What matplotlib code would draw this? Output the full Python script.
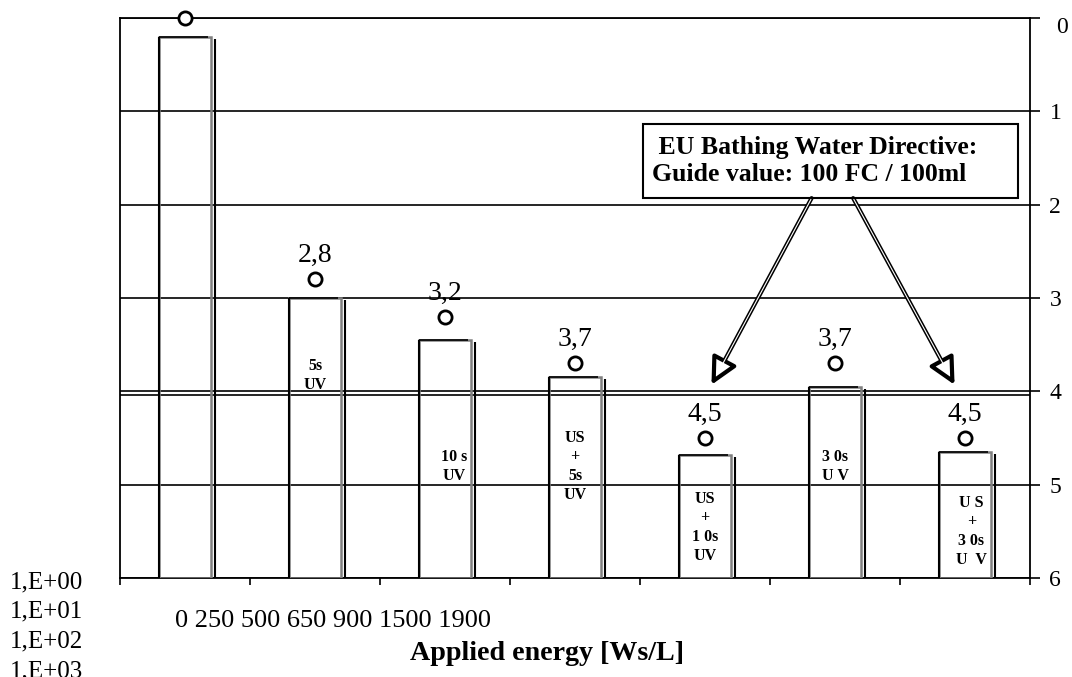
import matplotlib
matplotlib.use("Agg")
import matplotlib.pyplot as plt
from matplotlib.patches import Rectangle
from matplotlib.transforms import ScaledTranslation

plt.rcParams["font.family"] = ["Liberation Serif", "DejaVu Serif"]

# data
energies = ["0", "250", "500", "650", "900", "1500", "1900"]
bar_tops = [0.2, 3.0, 3.45, 3.85, 4.68, 3.95, 4.65]
marker_vals = [0.0, 2.8, 3.2, 3.7, 4.5, 3.7, 4.5]
value_labels = ["", "2,8", "3,2", "3,7", "4,5", "3,7", "4,5"]
treatments = ["", "5s\nUV", "10 s\nUV", "US\n+\n5s\nUV", "US\n+\n1 0s\nUV", "3 0s\nU V", "U S\n+\n3 0s\nU  V"]
treat_pos = [(0, 0), (0.0, 3.83), (0.07, 4.8), (0.0, 4.8), (0.0, 5.46), (0.0, 4.8), (0.05, 5.5)]
left_labels = ["1,E+00", "1,E+01", "1,E+02", "1,E+03"]
guide_value = 4.04
bottom_val = 6

x = list(range(len(energies)))
width = 0.4

fig = plt.figure(figsize=(10.72, 6.77), dpi=100)
ax = fig.add_axes([0.1119, 0.1462, 0.8489, 0.8272])

ax.set_xlim(-0.5, 6.5)
ax.set_ylim(6, 0)

# bars hanging from the bottom (6) up to the bar top
heights = [t - bottom_val for t in bar_tops]
ax.bar(x, heights, bottom=bottom_val, width=width, fill=False,
       edgecolor="#808080", lw=1.8, zorder=3)
ax.vlines([xi - width / 2 for xi in x], bar_tops, bottom_val, color="black", lw=1.5, zorder=4)
ax.vlines([xi + width / 2 + 0.03 for xi in x], [t + 0.02 for t in bar_tops], bottom_val,
          color="black", lw=1.5, zorder=4)
ax.hlines(bar_tops, [xi - width / 2 for xi in x], [xi + width / 2 - 0.02 for xi in x],
          color="black", lw=1.2, zorder=4)

# measured values
ax.plot(x, marker_vals, linestyle="none", marker="o", markersize=9.5,
        markerfacecolor="white", markeredgecolor="black", markeredgewidth=2,
        zorder=6, clip_on=False)
for xi, v, lab in zip(x, marker_vals, value_labels):
    if lab:
        ax.annotate(lab, (xi, v), xytext=(0, 8), textcoords="offset points",
                    ha="center", va="bottom", fontsize=20, zorder=6)

for xi, (dx, yy), t in zip(x, treat_pos, treatments):
    if t:
        ax.text(xi + dx, yy, t, ha="center", va="center", fontsize=11.5,
                fontweight="bold", linespacing=1.25, zorder=5)

# guide value line
ax.axhline(guide_value, color="black", lw=1.2, zorder=2)

# annotation box with arrows
ax.add_patch(Rectangle((3.523, 1.136), 2.885, 0.794, fill=False, ec="black", lw=1.5, zorder=6))
ax.text(3.59, 1.53, " EU Bathing Water Directive:\nGuide value: 100 FC / 100ml",
        ha="left", va="center", fontsize=18.5, fontweight="bold", linespacing=1.2,
        multialignment="left", zorder=6)
for start, end in [((4.82, 1.93), (4.05, 3.93)), ((5.14, 1.93), (5.92, 3.93))]:
    ax.annotate("", xy=end, xytext=start,
                arrowprops=dict(arrowstyle="-|>,head_length=0.9,head_width=0.45",
                                fc="white", ec="black", lw=3, mutation_scale=18,
                                shrinkA=0, shrinkB=0), zorder=7)
    ax.annotate("", xy=end, xytext=start,
                arrowprops=dict(arrowstyle="-", color="white", lw=0.8,
                                shrinkA=1, shrinkB=17), zorder=8)

# axes styling
ax.yaxis.tick_right()
ax.set_yticks(range(0, 7))
ax.tick_params(axis="y", direction="out", length=7, width=1.2, labelsize=17, pad=7)
ax.grid(axis="y", color="black", lw=1.2, zorder=1)
ax.set_xticks([i - 0.5 for i in range(8)])
ax.set_xticklabels([])
ax.tick_params(axis="x", direction="out", length=5, width=1.2)
for s in ax.spines.values():
    s.set_linewidth(1.3)
top_lab = ax.yaxis.get_major_ticks()[0].label2
top_lab.set_transform(top_lab.get_transform() + ScaledTranslation(0.07, -0.07, fig.dpi_scale_trans))

fig.text(0.163, 0.082, " ".join(energies), fontsize=19, ha="left", va="center")
fig.text(0.510, 0.035, "Applied energy [Ws/L]", fontsize=20.2, fontweight="bold",
         ha="center", va="center")
for i, lab in enumerate(left_labels):
    fig.text(0.009, 1 - (582 + 29.7 * i) / 677, lab, fontsize=18, ha="left", va="center")

fig.savefig("out.png", dpi=100)
